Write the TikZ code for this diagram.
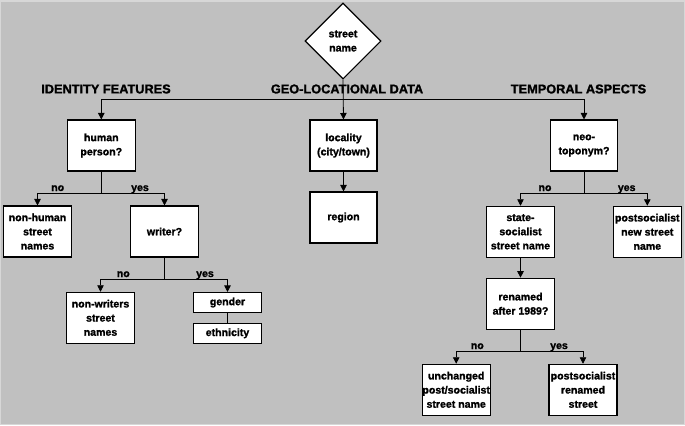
\documentclass[tikz,border=0pt]{standalone}
\usepackage{fontspec}
\setmainfont{Liberation Sans}[BoldFeatures={FakeBold=1.5}]
\usetikzlibrary{arrows.meta,shapes.geometric}
\definecolor{bg}{RGB}{192,192,192}
\definecolor{edgebg}{RGB}{215,215,215}
\tikzset{
  box/.style={draw=black,line width=1.1pt,fill=white,inner sep=0pt,align=center,
    font=\bfseries\fontsize{10.6}{14.2}\selectfont},
  head/.style={font=\bfseries\fontsize{12.8}{14}\selectfont,inner sep=0pt},
  lab/.style={font=\bfseries\fontsize{10.6}{12}\selectfont,inner sep=0pt},
  arr/.style={line width=0.8pt,-{Triangle[width=6.5pt,length=6.5pt]}},
  ln/.style={line width=0.8pt},
}
\begin{document}
\begin{tikzpicture}[x=1bp,y=-1bp]
\fill[bg] (0,0) rectangle (685,425);
\draw[edgebg,line width=1.5pt] (0.75,0.75) rectangle (684.25,424.25);
\useasboundingbox (0,0) rectangle (685,425);

% diamond
\node[box,shape=diamond,minimum width=76bp,minimum height=76bp] (sn) at (343,41) {street\\name};

% headings
\node[head] (h1) at (106,89) {IDENTITY FEATURES};
\node[head] (h2) at (347,89) {GEO-LOCATIONAL DATA};
\node[head] (h3) at (578.5,89) {TEMPORAL ASPECTS};

% boxes
\node[box,minimum width=68bp,minimum height=51bp] (hp) at (101.3,145.5) {human\\person?};
\node[box,minimum width=67bp,minimum height=51bp] (loc) at (343.5,145.5) {locality\\(city/town)};
\node[box,minimum width=67bp,minimum height=51bp] (neo) at (584,145.5) {neo-\\toponym?};
\node[box,minimum width=68bp,minimum height=51bp] (nh) at (37.5,231.5) {non-human\\street\\names};
\node[box,minimum width=68bp,minimum height=51bp] (wr) at (164.5,231.5) {writer?};
\node[box,minimum width=68bp,minimum height=51bp] (nw) at (100.5,317.8) {non-writers\\street\\names};
\node[box,minimum width=68bp,minimum height=20bp] (ge) at (227.5,302.5) {gender};
\node[box,minimum width=68bp,minimum height=20bp] (et) at (227.5,333.3) {ethnicity};
\node[box,minimum width=67bp,minimum height=51bp] (rg) at (343.5,217.5) {region};
\node[box,minimum width=68bp,minimum height=51bp] (ss) at (520.5,231.8) {state-\\socialist\\street name};
\node[box,minimum width=68bp,minimum height=51bp] (pn) at (647.3,231.8) {postsocialist\\new street\\name};
\node[box,minimum width=68bp,minimum height=51bp] (rn) at (520.5,303.7) {renamed\\after 1989?};
\node[box,minimum width=68bp,minimum height=51bp] (uc) at (456.2,389.8) {unchanged\\post/socialist\\street name};
\node[box,minimum width=68bp,minimum height=51bp] (pr) at (583,389.8) {postsocialist\\renamed\\street};

% junctions
\coordinate (j0) at (343,99.5);
\coordinate (j1) at (101.3,193.3);
\coordinate (j2) at (164.5,279.7);
\coordinate (j3) at (584,193.3);
\coordinate (j4) at (520.5,351);

% connectors
\draw[arr] (sn.south) -- (loc.north);
\draw[arr] (j0) -| (hp.north);
\draw[arr] (j0) -| (neo.north);
\draw[arr] (loc.south) -- (rg.north);

\draw[ln] (hp.south) -- (j1);
\draw[arr] (j1) -| (nh.north);
\draw[arr] (j1) -| (wr.north);

\draw[ln] (wr.south) -- (j2);
\draw[arr] (j2) -| (nw.north);
\draw[arr] (j2) -| (ge.north);
\draw[ln] (ge.south) -- (et.north);

\draw[ln] (neo.south) -- (j3);
\draw[arr] (j3) -| (ss.north);
\draw[arr] (j3) -| (pn.north);
\draw[arr] (ss.south) -- (rn.north);

\draw[ln] (rn.south) -- (j4);
\draw[arr] (j4) -| (uc.north);
\draw[arr] (j4) -| (pr.north);

% labels
\node[lab,anchor=base] (l1) at (57.7,191) {no};
\node[lab,anchor=base] (l2) at (140,191) {yes};
\node[lab,anchor=base] (l3) at (123.3,277) {no};
\node[lab,anchor=base] (l4) at (205,277) {yes};
\node[lab,anchor=base] (l5) at (545,191) {no};
\node[lab,anchor=base] (l6) at (626.7,191) {yes};
\node[lab,anchor=base] (l7) at (477.3,349) {no};
\node[lab,anchor=base] (l8) at (559,349) {yes};
\end{tikzpicture}
\end{document}
